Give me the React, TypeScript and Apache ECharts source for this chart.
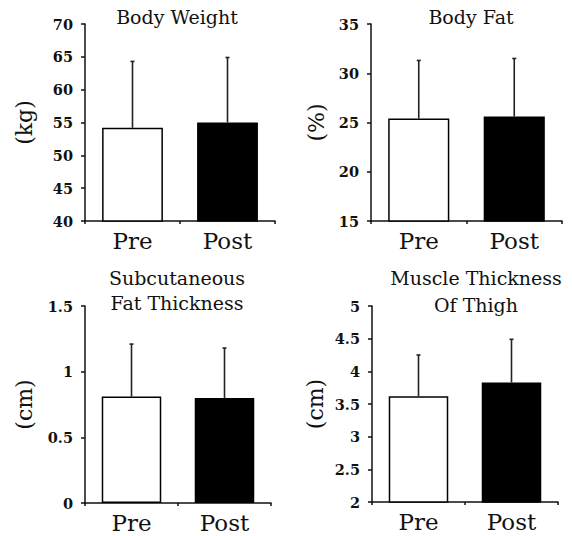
import React, { useEffect, useRef } from "react";
import * as echarts from "echarts";

const categories = ["Pre", "Post"];
const units = ["(kg)", "(%)", "(cm)", "(cm)"];
const titleLines = [["Body Weight"], ["Body Fat"], ["Subcutaneous", "Fat Thickness"], ["Muscle Thickness", "Of Thigh"]];

const bodyWeightMean = [54.2, 55.0];
const bodyWeightSD = [10.1, 9.9];
const bodyFatMean = [25.4, 25.6];
const bodyFatSD = [5.9, 5.9];
const subcutFatMean = [0.81, 0.8];
const subcutFatSD = [0.4, 0.38];
const muscleMean = [3.62, 3.83];
const muscleSD = [0.63, 0.66];

const axisMin = [40, 15, 0, 2];
const axisMax = [70, 35, 1.5, 5];
const axisStep = [5, 5, 0.5, 0.5];

const means = [bodyWeightMean, bodyFatMean, subcutFatMean, muscleMean];
const sds = [bodyWeightSD, bodyFatSD, subcutFatSD, muscleSD];

const grids = [
  { left: 85, top: 24, width: 190, height: 197 },
  { left: 371, top: 24, width: 191, height: 197 },
  { left: 85, top: 306, width: 186, height: 197 },
  { left: 372, top: 306, width: 186, height: 196 },
];
const titlePos = [
  { x: 177, y: [17] },
  { x: 471, y: [17] },
  { x: 177, y: [278, 303] },
  { x: 476, y: [278, 305] },
];
const nameGaps = [50, 44, 50, 46];

const FONT = "'DejaVu Serif', 'Liberation Serif', serif";
const INK = "#111";

export default function App() {
  const ref = useRef<HTMLDivElement>(null);
  useEffect(() => {
    if (!ref.current) return;
    const chart = echarts.init(ref.current, undefined, { renderer: "svg" });
    const xAxis: any[] = [];
    const yAxis: any[] = [];
    const series: any[] = [];
    const graphic: any[] = [];
    for (let i = 0; i < 4; i++) {
      xAxis.push({
        type: "category",
        gridIndex: i,
        data: categories,
        axisLine: { lineStyle: { color: INK, width: 1.5 } },
        axisTick: { show: true, length: 3, lineStyle: { color: INK, width: 1.5 } },
        axisLabel: { color: INK, fontFamily: FONT, fontSize: 23, margin: 8 },
      });
      yAxis.push({
        type: "value",
        gridIndex: i,
        min: axisMin[i],
        max: axisMax[i],
        interval: axisStep[i],
        name: units[i],
        nameLocation: "middle",
        nameGap: nameGaps[i],
        nameRotate: 90,
        nameTextStyle: { color: INK, fontFamily: FONT, fontSize: 22 },
        splitLine: { show: false },
        axisLine: { show: true, lineStyle: { color: INK, width: 1.5 } },
        axisTick: { show: true, length: 4, lineStyle: { color: INK, width: 1.5 } },
        axisLabel: { color: INK, fontFamily: FONT, fontSize: 14.5, fontWeight: "bold", margin: 12 },
      });
      series.push({
        type: "bar",
        xAxisIndex: i,
        yAxisIndex: i,
        barWidth: "64%",
        data: means[i].map((v, k) => ({
          value: v,
          itemStyle: {
            color: k === 0 ? "#fff" : "#000",
            borderColor: "#000",
            borderWidth: 1.5,
          },
        })),
        z: 2,
      });
      series.push({
        type: "custom",
        xAxisIndex: i,
        yAxisIndex: i,
        z: 3,
        data: means[i].map((v, k) => [k, v, v + sds[i][k]]),
        renderItem: (_params: any, api: any) => {
          const base = api.coord([api.value(0), api.value(1)]);
          const top = api.coord([api.value(0), api.value(2)]);
          return {
            type: "group",
            children: [
              {
                type: "line",
                shape: { x1: base[0], y1: base[1], x2: top[0], y2: top[1] },
                style: { stroke: "#222", lineWidth: 1.6 },
              },
              {
                type: "line",
                shape: { x1: top[0] - 2, y1: top[1], x2: top[0] + 2, y2: top[1] },
                style: { stroke: "#222", lineWidth: 1.6 },
              },
            ],
          };
        },
      });
      titleLines[i].forEach((t, j) => {
        graphic.push({
          type: "text",
          x: titlePos[i].x,
          y: titlePos[i].y[j],
          style: {
            text: t,
            fill: INK,
            font: `19px ${FONT}`,
            textAlign: "center",
            textVerticalAlign: "middle",
          },
        });
      });
    }
    chart.setOption({
      animation: false,
      backgroundColor: "#fff",
      grid: grids.map((g) => ({ ...g, containLabel: false })),
      xAxis,
      yAxis,
      series,
      graphic,
    });
    return () => chart.dispose();
  }, []);
  return (
    <div
      ref={ref}
      style={{ position: "fixed", left: 0, top: 0, width: 572, height: 536 }}
    />
  );
}
